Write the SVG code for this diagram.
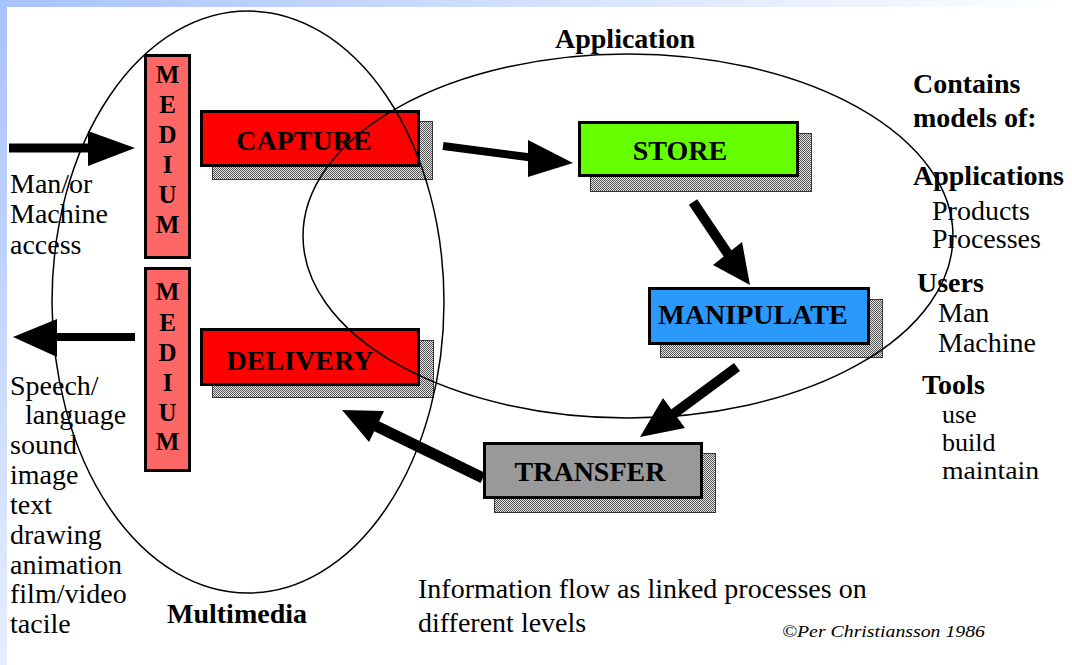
<svg xmlns="http://www.w3.org/2000/svg" width="1072" height="665" viewBox="0 0 1072 665">
<style>
.box{stroke:#000;stroke-width:3}
.shadow{fill:url(#dots);stroke:#333;stroke-width:1}
.lbl{font-family:"Liberation Serif","Times New Roman",serif;font-size:28px;font-weight:bold;fill:#000;text-anchor:middle}
.med{font-family:"Liberation Serif","Times New Roman",serif;font-size:25px;font-weight:bold;fill:#000;text-anchor:middle}
.t{font-family:"Liberation Serif","Times New Roman",serif;font-size:28px;fill:#000}
.ts{font-family:"Liberation Serif","Times New Roman",serif;font-size:26px;fill:#000}
.tb{font-family:"Liberation Serif","Times New Roman",serif;font-size:28px;font-weight:bold;fill:#000}
.ell{fill:none;stroke:#000;stroke-width:1.5}
.ln{stroke:#000;fill:none}
.hd{fill:#000}
</style>
<defs>
<linearGradient id="gtop" x1="0" y1="0" x2="1" y2="0">
<stop offset="0" stop-color="#a8c2fb"/>
<stop offset="1" stop-color="#ffffff"/>
</linearGradient>
<linearGradient id="gleft" x1="0" y1="0" x2="0" y2="1">
<stop offset="0" stop-color="#a8c2fb"/>
<stop offset="1" stop-color="#e6eeff"/>
</linearGradient>
<pattern id="dots" width="2" height="2" patternUnits="userSpaceOnUse">
<rect width="2" height="2" fill="#e4e4e4"/>
<rect width="1" height="1" fill="#555"/>
<rect x="1" y="1" width="1" height="1" fill="#555"/>
</pattern>
</defs>
<rect width="1072" height="665" fill="#fff"/>
<rect x="0" y="0" width="1072" height="7" fill="url(#gtop)"/>
<rect x="0" y="0" width="7" height="665" fill="url(#gleft)"/>

<g id="medium-in">
<rect class="box" x="145.5" y="55.5" width="44" height="202" fill="#ff6666"/>
<text class="med" x="167.5" y="83">M</text>
<text class="med" x="167.5" y="113">E</text>
<text class="med" x="167.5" y="143">D</text>
<text class="med" x="167.5" y="173">I</text>
<text class="med" x="167.5" y="203">U</text>
<text class="med" x="167.5" y="233">M</text>
</g>
<g id="medium-out">
<rect class="box" x="145.5" y="268.5" width="44" height="202" fill="#ff6666"/>
<text class="med" x="167.5" y="300">M</text>
<text class="med" x="167.5" y="331">E</text>
<text class="med" x="167.5" y="361">D</text>
<text class="med" x="167.5" y="391">I</text>
<text class="med" x="167.5" y="421">U</text>
<text class="med" x="167.5" y="450">M</text>
</g>
<g id="capture">
<rect class="shadow" x="212.5" y="121.5" width="220" height="58"/>
<rect class="box" x="201.5" y="111.5" width="217" height="54" fill="#ff0000"/>
<text class="lbl" x="304" y="150">CAPTURE</text>
</g>
<g id="delivery">
<rect class="shadow" x="212.5" y="340.5" width="221" height="57"/>
<rect class="box" x="201.5" y="329.5" width="217" height="55" fill="#ff0000"/>
<text class="lbl" x="300" y="370">DELIVERY</text>
</g>
<g id="store">
<rect class="shadow" x="590.5" y="133.5" width="221" height="58"/>
<rect class="box" x="579.5" y="122.5" width="218" height="53" fill="#66ff00"/>
<text class="lbl" x="680" y="160">STORE</text>
</g>
<g id="manipulate">
<rect class="shadow" x="660.5" y="299.5" width="222" height="58"/>
<rect class="box" x="649.5" y="288.5" width="219" height="55" fill="#2b98fb"/>
<text class="lbl" x="753" y="324">MANIPULATE</text>
</g>
<g id="transfer">
<rect class="shadow" x="494.5" y="453.5" width="221" height="59"/>
<rect class="box" x="484.5" y="443.5" width="217" height="54" fill="#999999"/>
<text class="lbl" x="590" y="481">TRANSFER</text>
</g>

<g id="regions">
<ellipse class="ell" cx="248" cy="302" rx="196" ry="291"/>
<ellipse class="ell" cx="628" cy="236" rx="325" ry="182"/>
</g>

<g id="connectors">
<line class="ln" x1="9" y1="148" x2="95" y2="148" stroke-width="9"/>
<polygon class="hd" points="88,131 135,148 88,166"/>
<line class="ln" x1="135" y1="337" x2="50" y2="337" stroke-width="8"/>
<polygon class="hd" points="13,337 57,319 57,357"/>
<line class="ln" x1="443" y1="146" x2="535" y2="158" stroke-width="8"/>
<polygon class="hd" points="528,140 573,163 528,177"/>
<line class="ln" x1="693" y1="202" x2="730" y2="257" stroke-width="10"/>
<polygon class="hd" points="713,265 750,285 742,242"/>
<line class="ln" x1="737" y1="367" x2="672" y2="415" stroke-width="10"/>
<polygon class="hd" points="663,398 640,437 685,428"/>
<line class="ln" x1="483" y1="478" x2="372" y2="424" stroke-width="11"/>
<polygon class="hd" points="384,411 342,410 369,442"/>
</g>

<g id="texts">
<text class="t" x="10" y="193">Man/or</text>
<text class="t" x="10" y="223">Machine</text>
<text class="t" x="10" y="254">access</text>
<text class="t" x="10" y="395">Speech/</text>
<text class="t" x="25" y="424">language</text>
<text class="t" x="10" y="454">sound</text>
<text class="t" x="10" y="484">image</text>
<text class="t" x="10" y="514">text</text>
<text class="t" x="10" y="544">drawing</text>
<text class="t" x="10" y="574">animation</text>
<text class="t" x="10" y="603">film/video</text>
<text class="t" x="10" y="633">tacile</text>
<text class="tb" x="167" y="623">Multimedia</text>
<text class="tb" x="555" y="48">Application</text>
<text class="tb" x="913" y="93">Contains</text>
<text class="tb" x="913" y="127">models of:</text>
<text class="tb" x="913" y="185">Applications</text>
<text class="t" x="932" y="220">Products</text>
<text class="t" x="932" y="248">Processes</text>
<text class="tb" x="917" y="292">Users</text>
<text class="t" x="938" y="322">Man</text>
<text class="t" x="938" y="352">Machine</text>
<text class="tb" x="922" y="394">Tools</text>
<text class="ts" x="942" y="423">use</text>
<text class="ts" x="942" y="451">build</text>
<text class="ts" x="942" y="479" textLength="97" lengthAdjust="spacingAndGlyphs">maintain</text>
<text class="t" x="418" y="598">Information flow as linked processes on</text>
<text class="t" x="418" y="632">different levels</text>
<text x="782" y="637" font-family="Liberation Serif, Times New Roman, serif" font-style="italic" font-size="17" textLength="203" lengthAdjust="spacingAndGlyphs">©Per Christiansson 1986</text>
</g>
</svg>
